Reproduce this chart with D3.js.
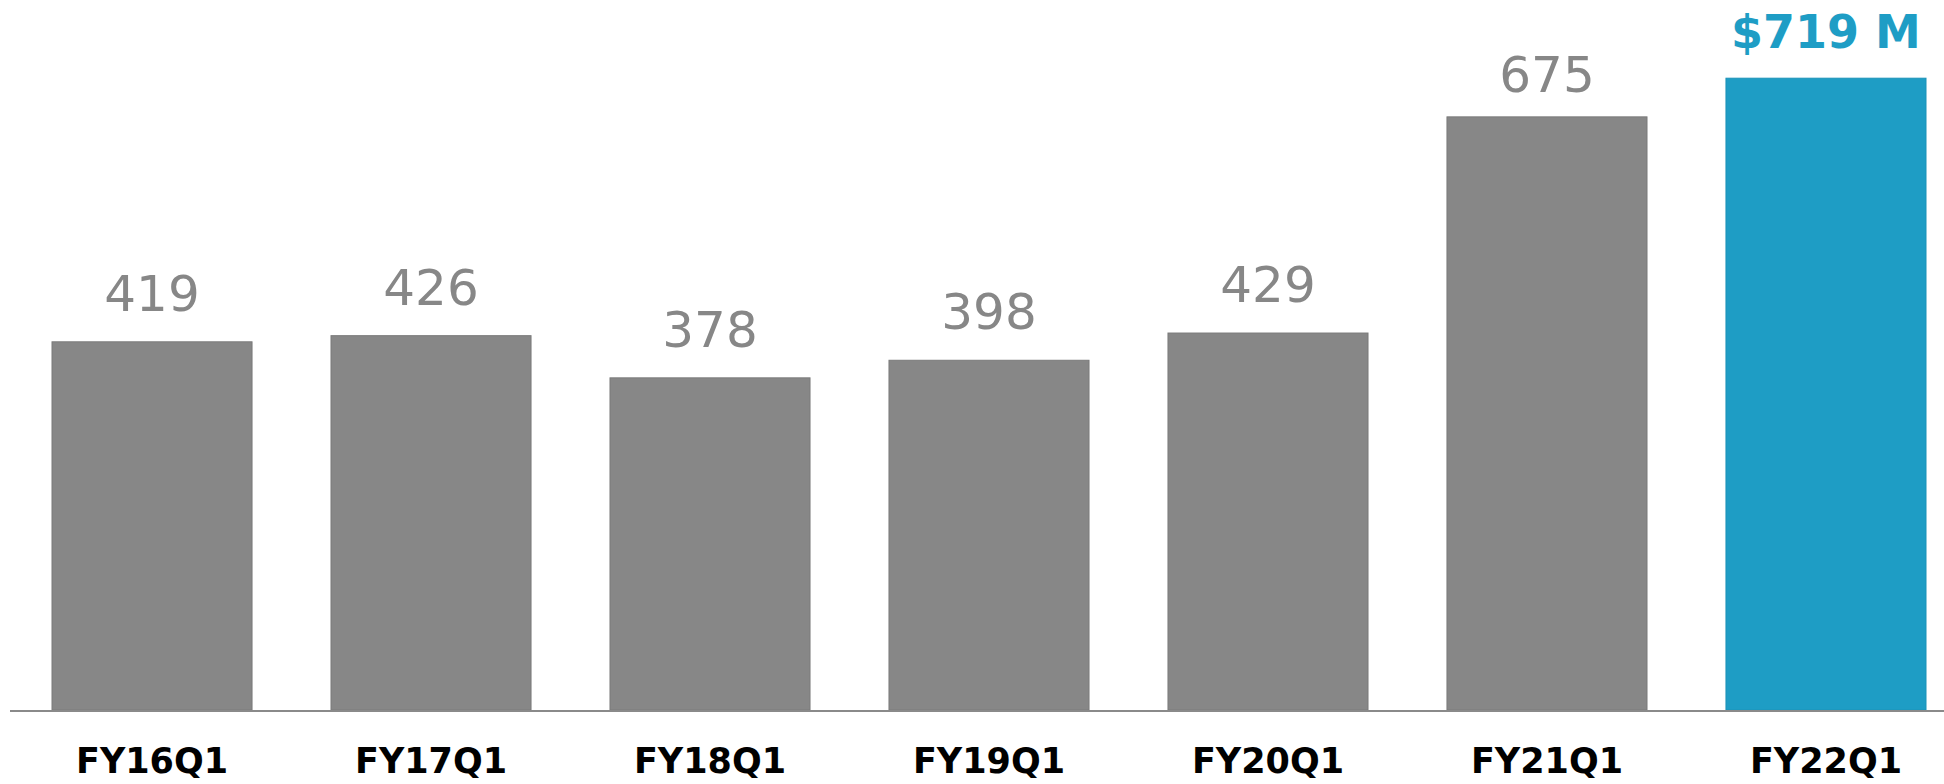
<!DOCTYPE html>
<html>
<head>
<meta charset="utf-8">
<script src="https://cdn.jsdelivr.net/npm/d3@7"></script>
<style>
  body { margin: 0; background: #fff; }
  svg { display: block; }
</style>
</head>
<body>
<script>
// quarterly revenue, $M
var quarters = ['FY16Q1','FY17Q1','FY18Q1','FY19Q1','FY20Q1','FY21Q1','FY22Q1'];
var revenue = [419, 426, 378, 398, 429, 675, 719];
var valueLabels = ['419','426','378','398','429','675','$719 M'];

var width = 1944;
var height = 784;
var baseY = 710;

var data = quarters.map(function(q, i) {
  return {q: q, v: revenue[i], label: valueLabels[i], last: i === quarters.length - 1};
});

var x = d3.scaleBand()
    .domain(quarters)
    .range([52, 1926])
    .paddingInner(0.283)
    .paddingOuter(0);

var y = d3.scaleLinear()
    .domain([0, 808])
    .range([baseY, 0]);

var svg = d3.select("body").append("svg")
    .attr("width", width)
    .attr("height", height);

var gray = "#878787";
var blue = "#1e9dc5";

svg.selectAll("rect.bar")
  .data(data)
  .enter().append("rect")
    .attr("class", "bar")
    .attr("x", function(d) { return x(d.q); })
    .attr("y", function(d) { return y(d.v); })
    .attr("width", x.bandwidth())
    .attr("height", function(d) { return baseY - y(d.v); })
    .attr("fill", function(d) { return d.last ? blue : gray; })
    .attr("stroke", function(d) { return d.last ? "#1a92b8" : "#7a7a7a"; })
    .attr("stroke-width", 1);

// baseline
svg.append("line")
    .attr("x1", 10).attr("x2", width)
    .attr("y1", baseY + 1).attr("y2", baseY + 1)
    .attr("stroke", "#8a8a8a")
    .attr("stroke-width", 2);

// value labels (the 675 one sits a bit closer to its bar in the original)
svg.selectAll("text.val")
  .data(data)
  .enter().append("text")
    .attr("class", "val")
    .attr("x", function(d) { return x(d.q) + x.bandwidth() / 2; })
    .attr("y", function(d) { return y(d.v) - (d.last ? 30 : (d.v > 600 ? 25 : 31)); })
    .attr("text-anchor", "middle")
    .attr("font-family", "DejaVu Sans, Verdana, sans-serif")
    .attr("font-size", d => d.last ? 46 : 50)
    .attr("font-weight", d => d.last ? "bold" : "normal")
    .attr("fill", d => d.last ? blue : gray)
    .text(function(d) { return d.label; });

// category labels
svg.selectAll("text.cat")
  .data(data)
  .enter().append("text")
    .attr("class", "cat")
    .attr("x", function(d) { return x(d.q) + x.bandwidth() / 2; })
    .attr("y", 773)
    .attr("text-anchor", "middle")
    .attr("font-family", "DejaVu Sans, Verdana, sans-serif")
    .attr("font-size", 35)
    .attr("font-weight", "bold")
    .attr("fill", "#000")
    .text(function(d) { return d.q; });
</script>
</body>
</html>
